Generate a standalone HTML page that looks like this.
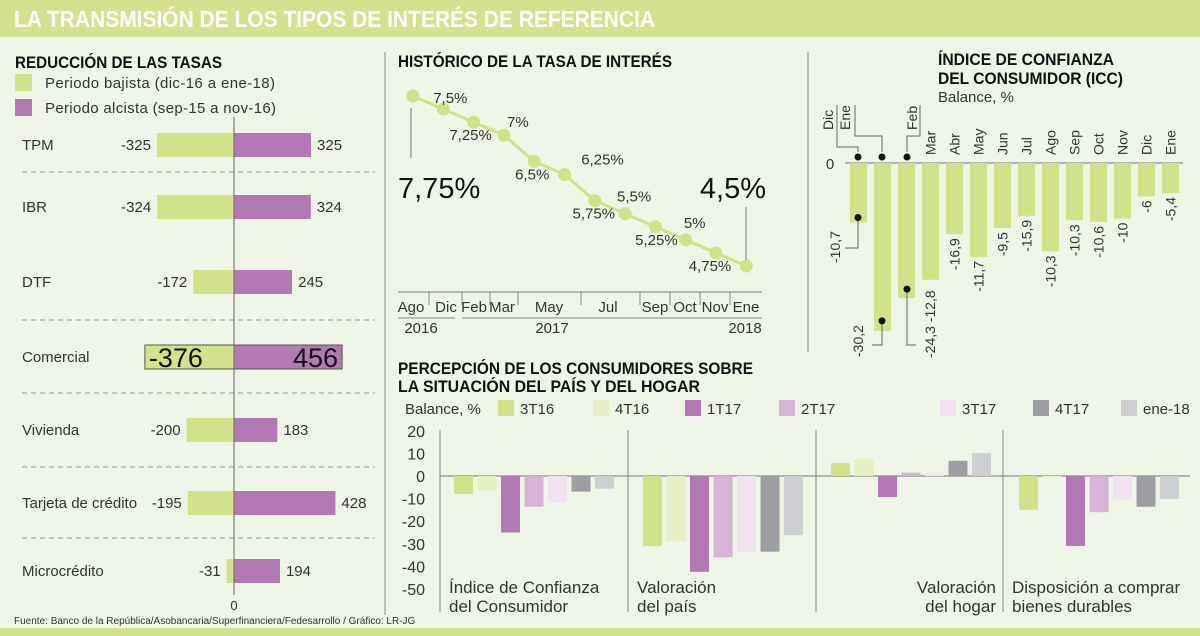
<!DOCTYPE html>
<html><head><meta charset="utf-8">
<style>
html,body{margin:0;padding:0;background:#eef5e6;}
svg{display:block;font-family:"Liberation Sans",sans-serif;}
.t{font-family:"Liberation Sans Narrow","Liberation Sans",sans-serif;font-weight:bold;fill:#111;}
.l{fill:#333;font-size:15px;}
</style></head>
<body>
<svg id="s" width="1200" height="636" viewBox="0 0 1200 636">
<rect x="0" y="0" width="1200" height="636" fill="#eef5e6"/>
<rect x="0" y="0" width="1200" height="37" fill="#d2e28e"/>
<text x="14" y="27" class="t" style="fill:#fff;font-size:23px" textLength="641" lengthAdjust="spacingAndGlyphs">LA TRANSMISIÓN DE LOS TIPOS DE INTERÉS DE REFERENCIA</text>
<rect x="0" y="628" width="1200" height="8" fill="#d2e28e"/>
<text x="14" y="624" style="font-size:10px;fill:#333">Fuente: Banco de la República/Asobancaria/Superfinanciera/Fedesarrollo  / Gráfico: LR-JG</text>
<line x1="385" y1="52" x2="385" y2="615" stroke="#888"/>
<line x1="808" y1="52" x2="808" y2="352" stroke="#888"/>

<text x="15" y="68" class="t" style="font-size:17px" textLength="207" lengthAdjust="spacingAndGlyphs">REDUCCIÓN DE LAS TASAS</text>
<rect x="15" y="74" width="17" height="17" fill="#d2e28a"/>
<text x="45" y="88" class="l" textLength="230">Periodo bajista (dic-16 a ene-18)</text>
<rect x="15" y="99" width="17" height="17" fill="#b279b5"/>
<text x="45" y="113" class="l" textLength="231">Periodo alcista (sep-15 a nov-16)</text>
<g id="left"></g>

<text x="398" y="67" class="t" style="font-size:17px" textLength="274" lengthAdjust="spacingAndGlyphs">HISTÓRICO DE LA TASA DE INTERÉS</text>
<g id="mid"></g>

<text x="938" y="65" class="t" style="font-size:17px" textLength="176" lengthAdjust="spacingAndGlyphs">ÍNDICE DE CONFIANZA</text>
<text x="938" y="84" class="t" style="font-size:17px" textLength="185" lengthAdjust="spacingAndGlyphs">DEL CONSUMIDOR (ICC)</text>
<text x="938" y="102" class="l">Balance, %</text>
<g id="icc"></g>

<text x="398" y="374" class="t" style="font-size:17px" textLength="355" lengthAdjust="spacingAndGlyphs">PERCEPCIÓN DE LOS CONSUMIDORES SOBRE</text>
<text x="398" y="392" class="t" style="font-size:17px" textLength="302" lengthAdjust="spacingAndGlyphs">LA SITUACIÓN DEL PAÍS Y DEL HOGAR</text>
<text x="405" y="414" class="l">Balance, %</text>
<g id="perc"></g>
</svg>
<script>
// ---- Left chart data
const rateCats = ["TPM","IBR","DTF","Comercial","Vivienda","Tarjeta de crédito","Microcrédito"];
const rateBajista = [-325,-324,-172,-376,-200,-195,-31];
const rateAlcista = [325,324,245,456,183,428,194];
// ---- History data
const histMonths = ["Ago","Dic","Feb","Mar","Abr","May","Jun","Jul","Ago","Sep","Oct","Nov","Ene"];
const histValues = [7.75,7.5,7.25,7,6.5,6.25,5.75,5.5,5.25,5,4.75,4.5];
const histLabels = ["7,75%","7,5%","7,25%","7%","6,5%","6,25%","5,75%","5,5%","5,25%","5%","4,75%","4,5%"];
// ---- ICC data
const iccMonths = ["Dic","Ene","Feb","Mar","Abr","May","Jun","Jul","Ago","Sep","Oct","Nov","Dic","Ene"];
const iccValues = [-10.7,-30.2,-24.3,-21,-12.8,-16.9,-11.7,-9.5,-15.9,-10.3,-10.6,-10,-6,-5.4];
const iccLabels = ["-10,7","-30,2","-24,3 -12,8","","-16,9","-11,7","-9,5","-15,9","-10,3","-10,3","-10,6","-10","-6","-5,4"];
// ---- Perception data
const percGroups = ["Índice de Confianza|del Consumidor","Valoración|del país","Valoración|del hogar","Disposición a comprar|bienes durables"];
const percSeries = ["3T16","4T16","1T17","2T17","3T17","4T17","ene-18"];
const p3T16 = [-8,-31,5.7,-15];
const p4T16 = [-6.4,-28.8,7.5,-0.5];
const p1T17 = [-25,-42.4,-9.3,-31];
const p2T17 = [-13.6,-36,1.5,-16];
const p3T17 = [-11.7,-33.8,1.2,-10.5];
const p4T17 = [-6.9,-33.5,6.7,-13.6];
const pEne18 = [-5.6,-26.2,10.1,-10.1];
const percTicks = [20,10,0,-10,-20,-30,-40,-50];

const NS="http://www.w3.org/2000/svg";
function mk(parent,tag,attrs,txt){const e=document.createElementNS(NS,tag);for(const k in attrs)e.setAttribute(k,attrs[k]);if(txt!==undefined)e.textContent=txt;parent.appendChild(e);return e;}

// ===== Left chart
(function(){
  const g=document.getElementById('left');
  const x0=234, k=0.237, rowY=[145,207,282,357,430,503,571];
  const dashY=[172,320,393,467,538];
  dashY.forEach(y=>{const d=mk(g,'line',{x1:22,x2:375,y1:y,y2:y,stroke:'#999','stroke-dasharray':'5,4'});
    
    });
  rateCats.forEach((c,i)=>{
    const y=rowY[i];
    const lb=mk(g,'text',{x:22,y:y+5,class:'l'},c);
    
    
    const wn=-rateBajista[i]*k, wp=rateAlcista[i]*k;
    const b1=mk(g,'rect',{x:x0-wn,y:y-12,width:wn,height:24,fill:'#d2e28a'});
    
    
    const b2=mk(g,'rect',{x:x0,y:y-12,width:wp,height:24,fill:'#b279b5'});
    
    
    if(c==="Comercial"){
      b1.setAttribute('stroke','#555');b2.setAttribute('stroke','#555');
      const t1=mk(g,'text',{x:x0-wn+4,y:y+10,style:'font-size:27px;fill:#111'},String(rateBajista[i]));
      
      
      const t2=mk(g,'text',{x:x0+wp-4,y:y+10,'text-anchor':'end',style:'font-size:27px;fill:#111'},String(rateAlcista[i]));
      
      
    } else {
      const t1=mk(g,'text',{x:x0-wn-6,y:y+5,'text-anchor':'end',class:'l'},String(rateBajista[i]));
      
      
      const t2=mk(g,'text',{x:x0+wp+6,y:y+5,class:'l'},String(rateAlcista[i]));
      
      
    }
  });
  const ax=mk(g,'line',{x1:x0,x2:x0,y1:117,y2:595,stroke:'#666'});
  
  
  const z=mk(g,'text',{x:x0,y:610,'text-anchor':'middle',class:'l',style:'font-size:13px'},'0');
  
  
})();

// ===== History line chart
(function(){
  const g=document.getElementById('mid');
  const X=i=>413+i*30.3, Y=v=>96+(7.75-v)*52.3;
  const pts=histValues.map((v,i)=>X(i)+','+Y(v)).join(' ');
  const pl=mk(g,'polyline',{points:pts,fill:'none',stroke:'#d2e28a','stroke-width':3});
  
  
  histValues.forEach((v,i)=>{
    const c=mk(g,'circle',{cx:X(i),cy:Y(v),r:6.5,fill:'#d2e28a'});
    
    
  });
  const off=[null,[7,-6],[-3,18],[14,-8],[-2,18],[38,-10],[-1,18],[9,-12],[1,18],[9,-12],[-6,18],null];
  histLabels.forEach((s,i)=>{
    if(!off[i])return;
    const t=mk(g,'text',{x:X(i)+off[i][0],y:Y(histValues[i])+off[i][1],'text-anchor':'middle',class:'l'},s);
    
    
  });
  const big1=mk(g,'text',{x:398,y:198,style:'font-size:29px;fill:#111'},histLabels[0]);
  
  
  const big2=mk(g,'text',{x:766,y:198,'text-anchor':'end',style:'font-size:29px;fill:#111'},histLabels[11]);
  
  
  const l1=mk(g,'line',{x1:411,x2:411,y1:108,y2:158,stroke:'#777'});
  
  
  const l2=mk(g,'line',{x1:746,x2:746,y1:207,y2:260,stroke:'#777'});
  
  
  const ax=mk(g,'line',{x1:398,x2:762,y1:292,y2:292,stroke:'#777'});
  
  
  const mPos=[["Ago",411],["Dic",446],["Feb",474],["Mar",502],["May",549],["Jul",608],["Sep",655],["Oct",685],["Nov",715],["Ene",746]];
  const tk=[429,462,490,518,581,640,640,670,700,730];
  mPos.forEach(m=>{
    const t=mk(g,'text',{x:m[1],y:312,'text-anchor':'middle',class:'l'},m[0]);
    
    
  });
  tk.forEach(x=>{const t=mk(g,'line',{x1:x,x2:x,y1:292,y2:305,stroke:'#888'});
    
    });
  [[398,455],[462,735],[732,762]].forEach(s=>{const t=mk(g,'line',{x1:s[0],x2:s[1],y1:318,y2:318,stroke:'#888'});
    
    });
  [["2016",421],["2017",552],["2018",745]].forEach(y=>{
    const t=mk(g,'text',{x:y[1],y:333,'text-anchor':'middle',class:'l'},y[0]);
    
    
  });
})();

// ===== ICC chart
(function(){
  const g=document.getElementById('icc');
  const z=163, k=5.56, X=i=>850+i*24, w=17;
  const zl=mk(g,'line',{x1:845,x2:1183,y1:z,y2:z,stroke:'#777'});
  
  
  const zt=mk(g,'text',{x:830,y:z+6,'text-anchor':'middle',class:'l'},'0');
  
  
  iccValues.forEach((v,i)=>{
    const h=-v*k;
    const r=mk(g,'rect',{x:X(i),y:z,width:w,height:h,fill:'#d2e28a'});
    
    
    const cx=X(i)+w/2+5;
    if(i>=3){
      const m=mk(g,'text',{x:cx,y:155,transform:`rotate(-90 ${cx} 155)`,style:'font-size:14px;fill:#333'},iccMonths[i]);
      
      
    }
    if(i>=4 && iccLabels[i]){
      const ly=z+h+4;
      const t=mk(g,'text',{x:cx,y:ly,'text-anchor':'end',transform:`rotate(-90 ${cx} ${ly})`,style:'font-size:14px;fill:#333'},iccLabels[i]);
      
      
    }
  });
  const top=[[833,130,"Dic"],[850,130,"Ene"],[917,130,"Feb"]];
  top.forEach((m,j)=>{
    const t=mk(g,'text',{x:m[0],y:m[1],transform:`rotate(-90 ${m[0]} ${m[1]})`,style:'font-size:14px;fill:#333'},m[2]);
    
    
  });
  const paths=["M837,105 V147 H858 V152","M855,105 V136 H882 V152","M920,105 V136 H907 V152",
    `M858,${z-iccValues[0]*k-5} V248 H845`,`M882,${z-iccValues[1]*k-10} V345 H872`,`M907,${z-iccValues[2]*k-9} V345 H916`];
  paths.forEach(d=>{const p=mk(g,'path',{d:d,fill:'none',stroke:'#666'});
    
    });
  const dots=[[858,157],[882,157],[907,157],[858,z-iccValues[0]*k-5],[882,z-iccValues[1]*k-10],[907,z-iccValues[2]*k-9]];
  dots.forEach(d=>{const c=mk(g,'circle',{cx:d[0],cy:d[1],r:3.5,fill:'#111'});
    
    });
  const a=mk(g,'text',{x:840,y:263,transform:'rotate(-90 840 263)',style:'font-size:14px;fill:#333'},iccLabels[0]);
  
  
  const b=mk(g,'text',{x:863,y:357,transform:'rotate(-90 863 357)',style:'font-size:14px;fill:#333'},iccLabels[1]);
  
  
  const c=mk(g,'text',{x:935,y:358,transform:'rotate(-90 935 358)',style:'font-size:14px;fill:#333'},iccLabels[2]);
  
  
})();

// ===== Perception chart
(function(){
  const g=document.getElementById('perc');
  const z=476, k=2.26, Y=v=>z-v*k;
  const colors=["#d2e28a","#e6efc4","#b279b5","#d6b4d8","#f0e2f0","#9e9da3","#cfd0d3"];
  const legX=[498,593,685,779,940,1033,1121];
  percSeries.forEach((s,i)=>{
    const r=mk(g,'rect',{x:legX[i],y:400,width:16,height:16,fill:colors[i]});
    
    
    const t=mk(g,'text',{x:legX[i]+22,y:414,class:'l'},s);
    
    
  });
  percTicks.forEach(v=>{
    const t=mk(g,'text',{x:425,y:Y(v)+6,'text-anchor':'end',style:'font-size:16px;fill:#333'},String(v));
    
    
  });
  const zl=mk(g,'line',{x1:440,x2:1190,y1:z,y2:z,stroke:'#777'});
  
  
  const seps=[440,628,816,1003];
  seps.forEach(x=>{const l=mk(g,'line',{x1:x,x2:x,y1:430,y2:612,stroke:'#888'});
    
    });
  const series=[p3T16,p4T16,p1T17,p2T17,p3T17,p4T17,pEne18];
  const gStart=[454,643,831,1019];
  percGroups.forEach((gn,gi)=>{
    series.forEach((arr,si)=>{
      const v=arr[gi], x=gStart[gi]+si*23.5;
      const r=mk(g,'rect',{x:x,y:Math.min(Y(v),z),width:19,height:Math.abs(v*k),fill:colors[si]});
      
      
    });
    const lines=gn.split('|');
    const right=(gi===2);
    lines.forEach((ln,li)=>{
      const t=mk(g,'text',{x:right?seps[3]-7:seps[gi]+9,y:593+li*19,'text-anchor':right?'end':'start',style:'font-size:17px;fill:#333'},ln);
      
      
    });
  });
})();
</script>
</body></html>
